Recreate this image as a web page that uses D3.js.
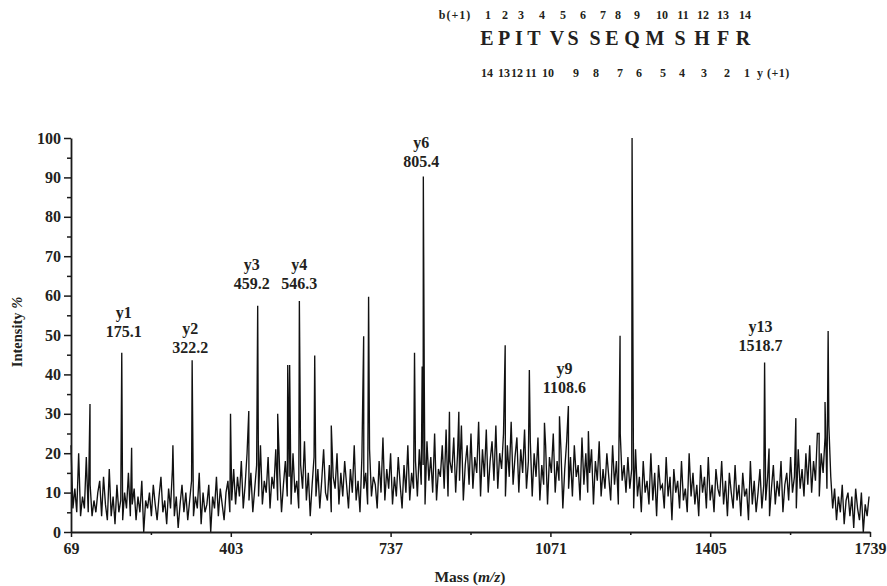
<!DOCTYPE html>
<html>
<head>
<meta charset="utf-8">
<script src="https://cdn.jsdelivr.net/npm/d3@7/dist/d3.min.js"></script>
<style>
body { margin: 0; background: #fff; }
svg { font-family: "Liberation Serif", "Times New Roman", serif; font-weight: bold; }
text { fill: #231f20; }
</style>
</head>
<body>
<svg id="chart" width="887" height="586"></svg>
<script>
var MZ_START = 69;
var MZ_STEP = 4;
var noise = [].concat(
    [22, 6, 11, 5, 20, 4, 9, 6, 19, 5, 12, 4, 8, 5, 10, 13, 4, 14, 7, 3, 16],
    [4, 9, 2, 12, 5, 8, 3, 10, 6, 15, 4, 7, 11, 3, 9, 5, 13, 0, 8, 6,
     10, 4, 12, 7, 3, 9, 14, 5, 8, 2, 11, 6, 16, 4, 9, 1, 7, 12, 5, 10,
     3, 8, 13, 4, 9, 6, 15, 2, 10, 5, 7, 12, 0, 9, 6, 14, 4, 11, 7, 3,
     10, 13, 5, 8, 16],
    [7, 14, 9, 18, 6, 12, 20, 8, 15, 5, 11, 17, 9, 22, 7, 13, 10, 19, 6, 14,
     11, 21, 8, 16, 5, 12, 18, 9, 14, 7, 20, 10, 13, 6, 17, 11, 23, 8, 15, 4,
     12, 19, 9, 16, 6, 13, 21, 10, 8, 17, 5, 14, 11, 20, 7, 15, 9, 18, 12, 6,
     16, 10, 22, 8, 13, 5, 19, 11, 15, 7, 21, 9, 14, 12, 6, 18, 10, 24, 8, 16,
     11, 20, 7, 14, 9, 19, 12, 6, 17, 10, 22, 8, 15, 11, 18],
    [9, 21, 12, 17, 7, 23, 13, 19, 10, 25, 8, 16, 14, 22, 11, 26, 9, 18, 15, 24,
     10, 20, 13, 27, 8, 17, 22, 12, 25, 11, 19, 15, 28, 9, 21, 14, 26, 10, 18, 23,
     13, 27, 11, 20, 16, 25, 9, 22, 14, 28, 12, 19, 24, 10, 21, 15, 26, 11, 18, 23],
    [9, 20, 14, 24, 8, 17, 12, 22, 7, 19, 15, 25, 10, 18, 13, 21, 6, 16, 23, 11,
     19, 9, 22, 14, 17, 8, 24, 12, 20, 10, 15, 21, 7, 18, 13, 23, 9, 16, 11, 20,
     14, 8, 22, 12, 18, 7, 25, 13, 17, 10],
    [19, 11, 16, 6, 21, 9, 14, 5, 18, 10, 13, 7, 20, 8, 15, 4, 17, 11, 12, 6,
     19, 9, 14, 3, 16, 10, 13, 6, 18, 8, 11, 5, 20, 9, 15, 7, 12, 4, 17, 10,
     14, 6, 19, 8, 12, 5, 16, 11, 9, 18, 7, 13, 4, 15, 10],
    [6, 17, 8, 12, 4, 15, 9, 11, 3, 18, 7, 13, 5, 10, 16, 6, 12, 8, 14, 4,
     11, 17, 7, 13, 9, 18, 5, 12, 15, 8, 19, 10, 14, 6, 21, 11, 16, 9, 20, 12],
    [22, 10, 18, 13, 25, 9, 20, 15, 24, 11, 27, 14],
    [6, 11, 3, 9, 5, 12, 2, 8, 10, 4, 9, 1, 11, 6, 3, 10, 0, 7, 4, 9]
);

// distinct peaks [m/z, intensity %]
var peaks = [
    [108.7, 32.5], [175.1, 45.5], [195.7, 21.4], [282, 22], [322.2, 43.6],
    [402.4, 30], [440.6, 30.7], [459.2, 57.4], [501, 30], [522, 42.4],
    [526, 42.4], [546.3, 58.6], [578.4, 44.8], [613, 27], [680.7, 49.7],
    [691, 59.7], [787, 45.5], [803, 42], [805.4, 90.2], [807.4, 38],
    [860, 30.5], [879.6, 30.5], [976.5, 47.4], [1027, 41.1], [1058.6, 27.7],
    [1090, 29.4], [1108.6, 32], [1150.4, 25.6], [1216.6, 49.8], [1241.7, 100],
    [1518.7, 43], [1528, 21.2], [1584, 28.9], [1632.7, 25], [1645, 33],
    [1651.5, 51]
];

var ionNames = ['y1', 'y2', 'y3', 'y4', 'y6', 'y9', 'y13'];
var ionMz = [175.1, 322.2, 459.2, 546.3, 805.4, 1108.6, 1518.7];

var xTicks = [69, 403, 737, 1071, 1405, 1739];
var xMinor = [236, 570, 904, 1238, 1572];
var yTicks = [0, 10, 20, 30, 40, 50, 60, 70, 80, 90, 100];
var yMinor = [5, 15, 25, 35, 45, 55, 65, 75, 85, 95];

var sequence = ['E', 'P', 'I', 'T', 'V', 'S', 'S', 'E', 'Q', 'M', 'S', 'H', 'F', 'R'];
var bIons = [1, 2, 3, 4, 5, 6, 7, 8, 9, 10, 11, 12, 13, 14];
var yIons = [14, 13, 12, 11, 10, 9, 8, 7, 6, 5, 4, 3, 2, 1];

// layout of annotations
var ionLabelDx = [2, -2, -6, 0, -2, -4, -4];
var ionLabelY = [337, 353, 289, 289, 167, 393, 351];
var letterX = [487, 504, 519, 534, 557, 573, 595, 612, 632, 655, 680, 702, 723, 743];
var bX = [488, 505, 521, 542, 563, 583, 603, 618, 637, 662, 683, 703, 723, 745];
var yX = [487, 504, 517, 531, 548, 576, 596, 620, 639, 663, 682, 704, 727, 747];

var svg = d3.select('#chart');
var x = d3.scaleLinear().domain([69, 1739]).range([71, 870]);
var y = d3.scaleLinear().domain([0, 100]).range([532, 138]);

// merge background trace and peaks into one sorted series
var points = noise.map(function (v, i) { return [MZ_START + i * MZ_STEP, v]; })
    .concat(peaks)
    .sort(function (a, b) { return a[0] - b[0]; });

var line = d3.line()
    .x(function (d) { return x(d[0]); })
    .y(function (d) { return y(d[1]); });

svg.append('path')
    .datum(points)
    .attr('d', line)
    .attr('fill', 'none')
    .attr('stroke', '#111')
    .attr('stroke-width', 1.35)
    .attr('stroke-linejoin', 'miter');

// axes
svg.append('g')
    .attr('transform', 'translate(0,' + y(0) + ')')
    .call(d3.axisBottom(x).tickValues(xTicks).tickSizeInner(5).tickSizeOuter(0).tickPadding(6).tickFormat(d3.format('d')));
svg.append('g')
    .attr('transform', 'translate(0,' + y(0) + ')')
    .call(d3.axisBottom(x).tickValues(xMinor).tickSize(3).tickFormat(''))
    .select('.domain').remove();

svg.append('g')
    .attr('transform', 'translate(' + x(69) + ',0)')
    .call(d3.axisLeft(y).tickValues(yTicks).tickSizeInner(7).tickSizeOuter(0).tickPadding(3).tickFormat(d3.format('d')));
svg.append('g')
    .attr('transform', 'translate(' + x(69) + ',0)')
    .call(d3.axisLeft(y).tickValues(yMinor).tickSize(4).tickFormat(''))
    .select('.domain').remove();

svg.selectAll('.domain').attr('stroke', '#1a1a1a').attr('stroke-width', 1.8);
svg.selectAll('.tick line').attr('stroke', '#1a1a1a').attr('stroke-width', 1.5);
svg.selectAll('.tick text')
    .attr('font-family', '"Liberation Serif", "Times New Roman", serif')
    .attr('font-size', 16)
    .attr('font-weight', 'bold')
    .attr('fill', '#231f20');

// axis titles
var xTitle = svg.append('text')
    .attr('x', 470).attr('y', 582)
    .attr('text-anchor', 'middle')
    .attr('font-size', 15.5);
xTitle.append('tspan').text('Mass (');
xTitle.append('tspan').attr('font-style', 'italic').text('m/z');
xTitle.append('tspan').text(')');

var yTitle = svg.append('text')
    .attr('transform', 'translate(22,332) rotate(-90)')
    .attr('text-anchor', 'middle')
    .attr('font-size', 14.5);
yTitle.append('tspan').text('Intensity ');
yTitle.append('tspan').attr('font-style', 'italic').text('%');

// peak annotations
ionNames.forEach(function (name, i) {
    var cx = x(ionMz[i]) + ionLabelDx[i];
    svg.append('text')
        .attr('x', cx).attr('y', ionLabelY[i] - 19)
        .attr('text-anchor', 'middle')
        .attr('font-size', 16)
        .text(name);
    svg.append('text')
        .attr('x', cx).attr('y', ionLabelY[i])
        .attr('text-anchor', 'middle')
        .attr('font-size', 16)
        .text(d3.format('.1f')(ionMz[i]));
});

// peptide sequence header
svg.append('text')
    .attr('x', 455).attr('y', 19)
    .attr('text-anchor', 'middle')
    .attr('font-size', 12)
    .attr('letter-spacing', 1)
    .text('b(+1)');
svg.selectAll('.bnum').data(bIons).enter().append('text')
    .attr('class', 'bnum')
    .attr('x', function (d, i) { return bX[i]; })
    .attr('y', 19)
    .attr('text-anchor', 'middle')
    .attr('font-size', 12)
    .text(function (d) { return d; });
svg.selectAll('.aa').data(sequence).enter().append('text')
    .attr('class', 'aa')
    .attr('x', function (d, i) { return letterX[i]; })
    .attr('y', 45)
    .attr('text-anchor', 'middle')
    .attr('font-size', 20)
    .text(function (d) { return d; });
svg.selectAll('.ynum').data(yIons).enter().append('text')
    .attr('class', 'ynum')
    .attr('x', function (d, i) { return yX[i]; })
    .attr('y', 77)
    .attr('text-anchor', 'middle')
    .attr('font-size', 12)
    .text(function (d) { return d; });
svg.append('text')
    .attr('x', 757).attr('y', 77)
    .attr('font-size', 12)
    .attr('letter-spacing', 0.5)
    .text('y (+1)');
</script>
</body>
</html>
